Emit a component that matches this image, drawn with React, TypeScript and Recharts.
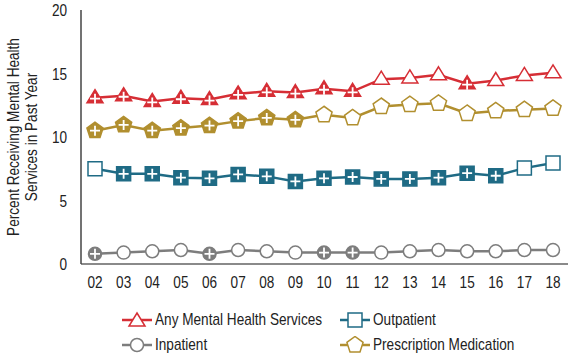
import React from "react";
import { LineChart, Line, XAxis, YAxis, Legend } from "recharts";

const years = ["02", "03", "04", "05", "06", "07", "08", "09", "10", "11", "12", "13", "14", "15", "16", "17", "18"];
const anyMH = [13.1, 13.25, 12.8, 13.05, 12.95, 13.4, 13.6, 13.5, 13.8, 13.6, 14.55, 14.65, 14.9, 14.2, 14.45, 14.85, 15.05];
const outpatient = [7.5, 7.1, 7.1, 6.8, 6.75, 7.05, 6.9, 6.5, 6.75, 6.85, 6.7, 6.7, 6.8, 7.15, 6.95, 7.55, 7.95];
const inpatient = [0.8, 0.9, 1.0, 1.1, 0.8, 1.1, 1.0, 0.9, 0.9, 0.9, 0.9, 1.0, 1.1, 1.0, 1.0, 1.1, 1.1];
const rx = [10.5, 10.95, 10.5, 10.7, 10.9, 11.25, 11.5, 11.35, 11.75, 11.5, 12.4, 12.55, 12.65, 11.85, 12.05, 12.15, 12.25];

// filled (with a plus) = significantly different from 2018
const anyMHSig = [1, 1, 1, 1, 1, 1, 1, 1, 1, 1, 0, 0, 0, 1, 0, 0, 0];
const outpatientSig = [0, 1, 1, 1, 1, 1, 1, 1, 1, 1, 1, 1, 1, 1, 1, 0, 0];
const inpatientSig = [1, 0, 0, 0, 1, 0, 0, 0, 1, 1, 0, 0, 0, 0, 0, 0, 0];
const rxSig = [1, 1, 1, 1, 1, 1, 1, 1, 0, 0, 0, 0, 0, 0, 0, 0, 0];

const yTicks = [0, 5, 10, 15, 20];

const RED = "#d62e35";
const TEAL = "#1f6b85";
const GRAY = "#7d7d7d";
const GOLD = "#b18f2f";
const FONT = "'Liberation Sans', Arial, sans-serif";
const SQUEEZE = 0.8; // fake a condensed face

const data = years.map((y, i) => ({
  year: y,
  any: anyMH[i],
  out: outpatient[i],
  inp: inpatient[i],
  rx: rx[i],
}));

type Shape = "triangle" | "square" | "circle" | "pentagon";

function markerPath(shape: Shape, cx: number, cy: number) {
  if (shape === "triangle") {
    return `M${cx},${cy - 8} L${cx + 8},${cy + 5} L${cx - 8},${cy + 5} Z`;
  }
  if (shape === "square") {
    return `M${cx - 7},${cy - 7} L${cx + 7},${cy - 7} L${cx + 7},${cy + 7} L${cx - 7},${cy + 7} Z`;
  }
  if (shape === "pentagon") {
    const r = 8.5;
    const pts = [0, 1, 2, 3, 4].map((k) => {
      const a = Math.PI + (k * 2 * Math.PI) / 5;
      return `${cx + r * Math.sin(a)},${cy + r * Math.cos(a)}`;
    });
    return `M${pts.join(" L")} Z`;
  }
  return "";
}

function Marker({ shape, cx, cy, color, filled }: { shape: Shape; cx: number; cy: number; color: string; filled: boolean }) {
  const fill = filled ? color : "#fff";
  const py = shape === "triangle" ? cy + 1 : cy;
  return (
    <g>
      {shape === "circle" ? (
        <circle cx={cx} cy={cy} r={6.5} fill={fill} stroke={color} strokeWidth={1.5} />
      ) : (
        <path d={markerPath(shape, cx, cy)} fill={fill} stroke={color} strokeWidth={1.5} />
      )}
      {filled && (
        <path d={`M${cx - 5},${py} L${cx + 5},${py} M${cx},${py - 5} L${cx},${py + 5}`} stroke="#fff" strokeWidth={1.8} />
      )}
    </g>
  );
}

const makeDot = (shape: Shape, color: string, sig: number[]) => (props: any) => {
  const { cx, cy, index } = props;
  return <Marker key={`${shape}-${index}`} shape={shape} cx={cx} cy={cy} color={color} filled={sig[index] === 1} />;
};

const legendItems: { label: string; shape: Shape; color: string }[] = [
  { label: "Any Mental Health Services", shape: "triangle", color: RED },
  { label: "Outpatient", shape: "square", color: TEAL },
  { label: "Inpatient", shape: "circle", color: GRAY },
  { label: "Prescription Medication", shape: "pentagon", color: GOLD },
];

function LegendIcon({ shape, color }: { shape: Shape; color: string }) {
  return (
    <svg width={30} height={18} style={{ marginRight: 3, flex: "none" }}>
      <line x1={0} y1={9} x2={30} y2={9} stroke={color} strokeWidth={2.5} />
      <Marker shape={shape} cx={15} cy={shape === "triangle" ? 10 : 9} color={color} filled={false} />
    </svg>
  );
}

function renderLegend() {
  return (
    <div
      style={{
        height: 66,
        boxSizing: "border-box",
        paddingTop: 16,
        display: "grid",
        gridTemplateColumns: "218px 200px",
        gridAutoRows: "20px",
        rowGap: 5,
        marginLeft: 122,
        fontFamily: FONT,
        fontSize: 17,
        color: "#222",
        overflow: "hidden",
      }}
    >
      {legendItems.map((it) => (
        <div key={it.label} style={{ display: "flex", alignItems: "center", height: 20, whiteSpace: "nowrap" }}>
          <LegendIcon shape={it.shape} color={it.color} />
          <span style={{ display: "inline-block", transform: `scaleX(${SQUEEZE})`, transformOrigin: "left center" }}>{it.label}</span>
        </div>
      ))}
    </div>
  );
}

function YLabel(props: any) {
  const { viewBox } = props;
  const cy = viewBox.y + viewBox.height / 2;
  return (
    <text transform={`translate(22 ${cy}) rotate(-90) scale(${SQUEEZE} 1)`} x={0} y={0} textAnchor="middle" fontFamily={FONT} fontSize={17} fill="#222">
      <tspan x={0} dy={-3}>Percent Receiving Mental Health</tspan>
      <tspan x={0} dy={18.5}>Services in Past Year</tspan>
    </text>
  );
}

function XTick(props: any) {
  const { x, y, payload } = props;
  return (
    <text transform={`translate(${x} ${y}) scale(${SQUEEZE} 1)`} textAnchor="middle" dy="0.71em" fontFamily={FONT} fontSize={17} fill="#222">
      {payload.value}
    </text>
  );
}

function YTick(props: any) {
  const { x, y, payload } = props;
  return (
    <text transform={`translate(${x} ${y}) scale(${SQUEEZE} 1)`} textAnchor="end" dy="0.355em" fontFamily={FONT} fontSize={17} fill="#222">
      {payload.value}
    </text>
  );
}

export default function App() {
  return (
    <div style={{ position: "absolute", left: 0, top: 0, width: 576, height: 360, background: "#fff" }}>
      <LineChart width={576} height={360} data={data} margin={{ top: 10, right: 8, bottom: 0, left: 0 }}>
        <XAxis
          dataKey="year"
          stroke="#8a8a8a"
          strokeWidth={2}
          tickLine={false}
          padding={{ left: 14, right: 15 }}
          tick={<XTick />}
          tickMargin={6}
          height={30}
          interval={0}
        />
        <YAxis
          domain={[0, 20]}
          ticks={yTicks}
          width={81}
          stroke="#444"
          strokeWidth={1.5}
          tickLine={false}
          tick={<YTick />}
          tickMargin={8}
          label={<YLabel />}
        />
        <Legend verticalAlign="bottom" align="left" height={66} content={renderLegend} wrapperStyle={{ padding: 0, margin: 0 }} />
        <Line dataKey="any" stroke={RED} strokeWidth={2.5} isAnimationActive={false} dot={makeDot("triangle", RED, anyMHSig)} activeDot={false} />
        <Line dataKey="rx" stroke={GOLD} strokeWidth={2.5} isAnimationActive={false} dot={makeDot("pentagon", GOLD, rxSig)} activeDot={false} />
        <Line dataKey="out" stroke={TEAL} strokeWidth={2.5} isAnimationActive={false} dot={makeDot("square", TEAL, outpatientSig)} activeDot={false} />
        <Line dataKey="inp" stroke={GRAY} strokeWidth={2.5} isAnimationActive={false} dot={makeDot("circle", GRAY, inpatientSig)} activeDot={false} />
      </LineChart>
    </div>
  );
}
